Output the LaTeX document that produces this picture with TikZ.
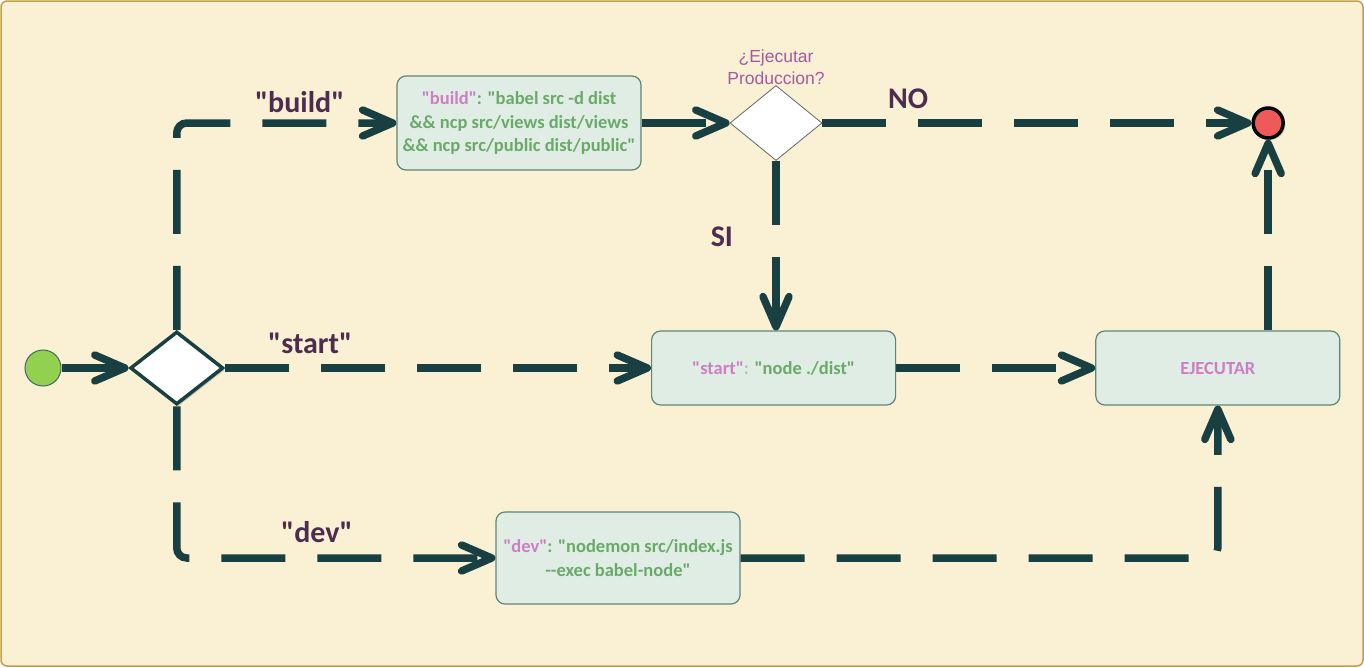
\documentclass[tikz,border=0pt]{standalone}
\usepackage{fontspec}
\setmainfont{Carlito}[Ligatures=TeXOff]
\newfontfamily\titlefont{Liberation Sans}
\usetikzlibrary{arrows.meta,positioning,shapes.geometric,shadows}
\definecolor{linecol}{HTML}{183F42}
\definecolor{bgcol}{HTML}{FAF0D4}
\definecolor{bordercol}{HTML}{C3A046}
\definecolor{boxfill}{HTML}{E0EDE5}
\definecolor{boxline}{HTML}{5E8676}
\definecolor{codegreen}{HTML}{6AAA68}
\definecolor{codepink}{HTML}{CF7EC3}
\definecolor{colongrey}{HTML}{B9C2BA}
\definecolor{lblcol}{HTML}{4E2C50}
\definecolor{titlecol}{HTML}{A65AA0}
\definecolor{startfill}{HTML}{92D050}
\definecolor{endfill}{HTML}{EE5A5A}
\newcommand{\pk}[1]{\textcolor{codepink}{#1}}

\begin{document}
\begin{tikzpicture}[x=1pt,y=-1pt,>={Straight Barb[length=30pt,width=26pt,round]},
  flow/.style={->,draw=linecol,line width=7.5pt,dash pattern=on 64pt off 32pt,rounded corners=10pt},
  box/.style={rectangle,rounded corners=9pt,draw=boxline,line width=1.2pt,fill=boxfill,minimum width=244pt,align=center,text=codegreen,font=\bfseries\fontsize{18.5}{23.5}\selectfont},
  choice/.style={diamond,draw=linecol,line width=3.5pt,fill=white,inner sep=0pt,minimum width=93pt,minimum height=73pt,drop shadow={opacity=0.35,shadow xshift=2pt,shadow yshift=-2pt}},
  decision/.style={diamond,draw=black!60,line width=0.8pt,fill=white,inner sep=0pt,minimum width=92pt,minimum height=75pt},
  start/.style={circle,draw=linecol!80,line width=1pt,fill=startfill,minimum size=36pt,inner sep=0pt},
  finish/.style={circle,draw=black,line width=3.5pt,fill=endfill,minimum size=30pt,inner sep=0pt,drop shadow={opacity=0.35,shadow xshift=2pt,shadow yshift=-2pt}},
  lbl/.style={text=lblcol,font=\bfseries\fontsize{30}{36}\selectfont},
  title/.style={text=titlecol,align=center,inner sep=0pt,font=\titlefont\fontsize{17.5}{22}\selectfont}]

  \useasboundingbox (0,0) rectangle (1364,667);
  \fill[bgcol,draw=bordercol,line width=1.5pt,rounded corners=6pt] (1,1) rectangle (1363,666);

  \node[start] (0) at (43,368) {};
  \node[choice] (1) [right=67pt of 0] {};
  \node[box,minimum height=74pt] (3) [right=426pt of 1] {\pk{"start"}\textcolor{colongrey}{:} "node ./dist"};
  \node[box,minimum height=74pt] (4) [right=199pt of 3] {\pk{EJECUTAR}};
  \node[box,minimum height=94pt] (2) at (519,123) {\pk{"build"}: "babel src -d dist\\\&\& ncp src/views dist/views\\\&\& ncp src/public dist/public"};
  \node[decision] (5) [right=88pt of 2] {};
  \node[finish] (6) [right=429pt of 5] {};
  \node[box,minimum height=92pt] (7) at (618,558) {\pk{"dev"}: "nodemon src/index.js\\--exec babel-node"};
  \node[title] (8) [above=0pt of 5] {¿Ejecutar\\Produccion?};

  \path[flow] (0) -- (1);
  \path[flow] (1.north) |- node[lbl,above=3pt,pos=0.78] (l1) {"build"} (2.west);
  \path[flow] (2) -- (5);
  \path[flow] (5) -- node[lbl,above=7pt,pos=0.2] (l2) {NO} (6);
  \path[flow] (5) -- node[lbl,left=36pt,pos=0.45] (l3) {SI} (5 |- 3.north);
  \path[flow] (1) -- node[lbl,above=7pt,pos=0.2] (l4) {"start"} (3);
  \path[flow] (3) -- (4);
  \path[flow] (6 |- 4.north) -- (6);
  \path[flow] (1.south) |- node[lbl,above=8pt,pos=0.72] (l5) {"dev"} (7.west);
  \path[flow] (7) -| (4);

\end{tikzpicture}
\end{document}
